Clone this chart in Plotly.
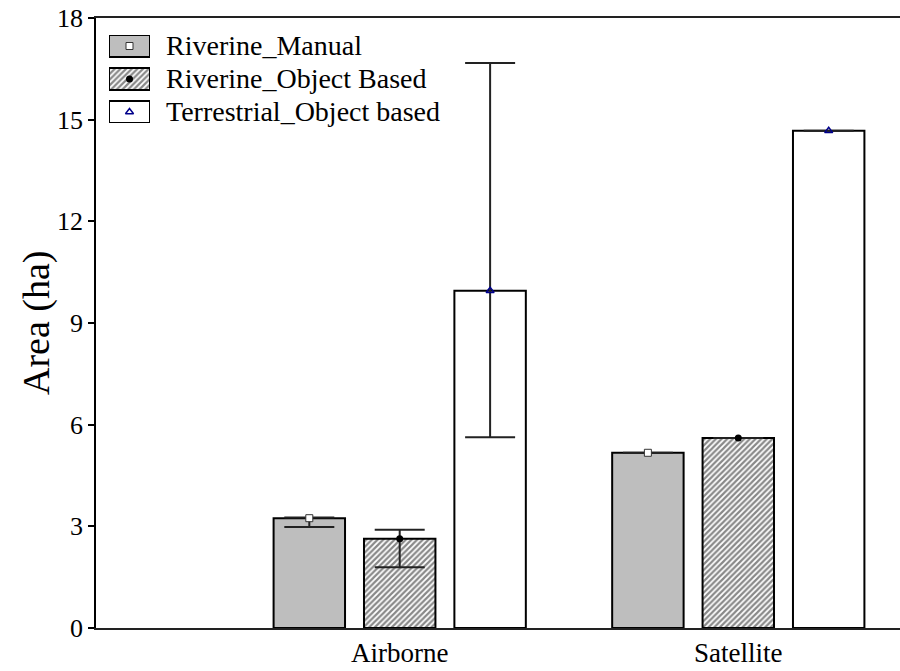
import numpy as np
import plotly.graph_objects as go

# ---- data -------------------------------------------------------------
categories = ["Airborne", "Satellite"]
series_names = ["Riverine_Manual", "Riverine_Object Based", "Terrestrial_Object based"]

riverine_manual = [3.24, 5.17]
riverine_object = [2.63, 5.61]
terrestrial_object = [9.95, 14.67]

# error bar extents (upper / lower whisker values)
riverine_manual_hi = [3.26, 5.17]
riverine_manual_lo = [2.98, 5.17]
riverine_object_hi = [2.90, 5.61]
riverine_object_lo = [1.79, 5.61]
terrestrial_object_hi = [16.67, 14.67]
terrestrial_object_lo = [5.63, 14.67]

y_ticks = [0, 3, 6, 9, 12, 15, 18]

# ---- styling ----------------------------------------------------------
FONT = "Liberation Serif"
SLOT = 0.267          # distance between neighbouring bar centres (category units)
BAR_W = 0.211         # bar width (category units)

# plot-area geometry in px (used to place the hand-made legend)
PLOT_L, PLOT_W = 96, 804
PLOT_B, PLOT_H = 628, 610


def px_x(px):
    return (px - PLOT_L) / PLOT_W


def px_y(py):
    return (PLOT_B - py) / PLOT_H


styles = [
    dict(fill="#BEBEBE", pattern=None,
         marker=dict(symbol="square", size=7, color="white", line=dict(color="#333", width=1))),
    dict(fill="white", pattern=dict(shape="/", fgcolor="#111", bgcolor="white", size=4, solidity=0.55),
         marker=dict(symbol="circle", size=7, color="black", line=dict(color="black", width=0))),
    dict(fill="white", pattern=None,
         marker=dict(symbol="triangle-up-open", size=7, color="#00008B", line=dict(color="#00008B", width=1.5))),
]

values = [riverine_manual, riverine_object, terrestrial_object]
his = [riverine_manual_hi, riverine_object_hi, terrestrial_object_hi]
los = [riverine_manual_lo, riverine_object_lo, terrestrial_object_lo]

pos = np.arange(len(categories), dtype=float)
fig = go.Figure()

for k, (name, vals, hi, lo, st) in enumerate(zip(series_names, values, his, los, styles)):
    centre = (k - 1) * SLOT
    v = np.array(vals)
    bar_marker = dict(color=st["fill"], line=dict(color="black", width=2))
    if st["pattern"]:
        bar_marker["pattern"] = st["pattern"]
    fig.add_trace(go.Bar(
        x=pos, y=v, width=BAR_W, offset=centre - BAR_W / 2,
        marker=bar_marker, showlegend=False, name=name,
    ))
    fig.add_trace(go.Scatter(
        x=pos + centre, y=v, mode="markers", marker=st["marker"], showlegend=False,
        error_y=dict(type="data", symmetric=False,
                     array=np.array(hi) - v, arrayminus=v - np.array(lo),
                     color="#222", thickness=2, width=25),
    ))

# ---- legend drawn on its own small axes so the swatches keep their fill ----
LEG_TOP = 35    # px of first swatch top
LEG_H = 22      # swatch height (px)
LEG_STEP = 33   # vertical spacing between entries (px)
for k, (name, st) in enumerate(zip(series_names, styles)):
    sw_marker = dict(color=st["fill"], line=dict(color="black", width=2))
    if st["pattern"]:
        sw_marker["pattern"] = st["pattern"]
    fig.add_trace(go.Bar(
        x=[0.5], y=[LEG_H], base=[k * LEG_STEP], width=1, offset=-0.5,
        marker=sw_marker, xaxis="x2", yaxis="y2", showlegend=False, hoverinfo="skip",
    ))
    fig.add_trace(go.Scatter(
        x=[0.5], y=[k * LEG_STEP + LEG_H / 2], mode="markers", marker=st["marker"],
        xaxis="x2", yaxis="y2", showlegend=False, hoverinfo="skip",
    ))
    fig.add_annotation(
        x=px_x(164), y=px_y(LEG_TOP + k * LEG_STEP + LEG_H / 2), xref="paper", yref="paper",
        text=name, showarrow=False, xanchor="left", yanchor="middle",
        font=dict(family=FONT, size=28, color="black"),
    )

# y-axis title (rotated)
fig.add_annotation(
    x=px_x(36), y=0.5, xref="paper", yref="paper", text="Area (ha)", textangle=-90,
    showarrow=False, xanchor="center", yanchor="middle",
    font=dict(family=FONT, size=38, color="black"),
)

fig.update_layout(
    width=900, height=671,
    margin=dict(l=PLOT_L, r=0, t=18, b=43),
    paper_bgcolor="white", plot_bgcolor="white",
    barmode="overlay",
    showlegend=False,
    font=dict(family=FONT, color="black"),
    xaxis=dict(
        range=[-0.897, 1.4776], tickvals=pos, ticktext=categories,
        showline=True, mirror=True, linecolor="#222", linewidth=1.5,
        ticks="", showgrid=False, zeroline=False,
        tickfont=dict(family=FONT, size=27, color="black"),
    ),
    yaxis=dict(
        range=[0, 18], tickvals=y_ticks,
        showline=True, linecolor="black", linewidth=1.5,
        ticks="outside", ticklen=6, tickwidth=1.5, tickcolor="black",
        showgrid=False, zeroline=False,
        tickfont=dict(family=FONT, size=26, color="black"),
    ),
    xaxis2=dict(domain=[px_x(109), px_x(150)], range=[0, 1], anchor="y2",
                visible=False, fixedrange=True),
    yaxis2=dict(domain=[px_y(LEG_TOP + 2 * LEG_STEP + LEG_H), px_y(LEG_TOP)],
                range=[2 * LEG_STEP + LEG_H, 0], anchor="x2",
                visible=False, fixedrange=True),
)

fig.write_html("out.html")
